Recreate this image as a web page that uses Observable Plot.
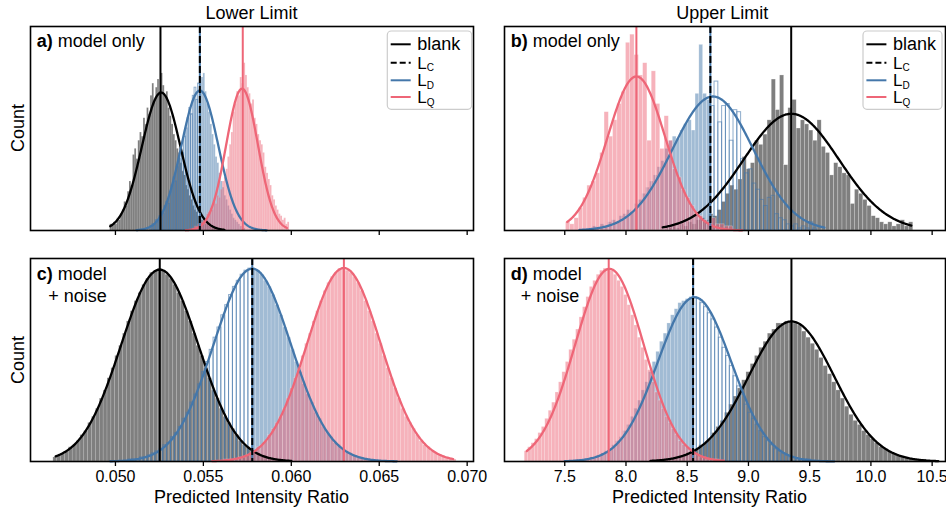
<!DOCTYPE html>
<html>
<head>
<meta charset="utf-8">
<script src="https://cdn.jsdelivr.net/npm/d3@7"></script>
<script src="https://cdn.jsdelivr.net/npm/@observablehq/plot@0.6"></script>
<style>
  body { margin: 0; background: #fff; }
  #fig { position: relative; width: 946px; height: 512px; overflow: hidden; background: #fff; }
  #fig svg { position: absolute; }
</style>
</head>
<body>
<div id="fig"></div>
<script>
const FONT = "'Liberation Sans', Arial, Helvetica, sans-serif";
const BLANK = "#000000";
const BLUE = "#4477AA";
const RED = "#EE6677";

// ---- axes ----
const lowerDomain = [0.04517, 0.07036];
const upperDomain = [7.008, 10.609];
const lowerTicks = [0.050, 0.055, 0.060, 0.065, 0.070];
const upperTicks = [7.5, 8.0, 8.5, 9.0, 9.5, 10.0, 10.5];

// ---- a) lower limit, model only ----
const aBinWidth = 0.0001;
const aBlankStart = 0.0497;
const aBlankCounts = [3,2,4,3,6,5,8,10,14,12,19,24,22,37,40,35,44,48,46,55,52,60,57,66,72,64,70,74,68,77,71,66,68,60,56,52,47,44,40,38,33,29,27,22,20,17,15,12,10,9,7,6,5,4,3,3,2,2,1,1];
const aLDStart = 0.0520;
const aLDCounts = [2,3,3,5,4,7,9,8,12,14,13,19,22,26,24,31,35,40,38,46,50,55,60,57,66,70,64,72,69,75,77,68,62,58,52,47,42,36,33,28,24,21,17,15,12,10,8,6,5,4,3,2,2,1];
const aLQStart = 0.0544;
const aLQCounts = [1,2,2,3,4,4,6,5,8,9,11,10,14,13,17,16,20,24,26,30,36,42,48,58,62,68,66,75,72,82,76,70,67,62,64,55,52,47,44,42,38,31,28,25,22,17,15,12,10,8,7,5,6,3,4];
// fitted curves: blank, L_D, L_Q
const aMeans = [0.0526, 0.0548, 0.0572];
const aSds = [0.0011, 0.00105, 0.0009];
const aPeaks = [67.6, 68.6, 69.5];
const aLo = [0.0497, 0.0512, 0.0540];
const aHi = [0.0562, 0.0586, 0.05975];
// limits: blank, L_C, L_D, L_Q
const aLimits = [0.05256, 0.05480, 0.05480, 0.05724];

// ---- b) upper limit, model only ----
const bBlankStart = 8.34, bBlankWidth = 0.034;
const bBlankCounts = [1,2,1,3,2,4,3,5,6,5,8,7,10,14,18,22,20,25,36,30,33,44,42,47,54,74,59,76,32,60,64,50,54,52,49,44,54,41,38,27,33,31,28,27,13,20,18,15,12,7,6,4,3,4,2,3,5,2,4];
const bLDStart = 7.70, bLDWidth = 0.031;
const bLDCounts = [1,2,1,3,2,4,5,4,7,8,10,9,13,15,18,21,24,27,31,34,40,44,46,45,49,52,54,49,67,91,67,64,61,73,53,61,62,44,59,58,35,28,30,23,20,15,12,16,17,8,6,5,3,2,3,1,2,1,4,1];
const bLQStart = 7.51, bLQWidth = 0.035;
const bLQCounts = [4,3,6,11,16,22,24,28,38,58,46,54,62,68,92,96,86,76,82,44,78,62,40,56,44,30,26,20,16,12,9,7,5,4,6,3,3,2,2];
const bMeans = [9.35, 8.71, 8.085];
const bSds = [0.39, 0.33, 0.235];
const bPeaks = [57.2, 65.7, 75.5];
const bLo = [8.30, 7.62, 7.52];
const bHi = [10.33, 9.62, 8.95];
const bLimits = [9.349, 8.689, 8.689, 8.085];

// ---- c) lower limit, model + noise ----
const cBlankStart = 0.04647, cBlankWidth = 0.00022;
const cBlankCounts = [2,3,4,5,7,8,10,13,15,19,22,26,31,35,41,46,52,57,63,69,74,79,83,87,90,93,94,95,94,92,90,87,83,79,74,69,63,57,52,46,41,35,31,26,22,19,16,13,10,8,7,5,4,3,3,2,1,1,1,1,0];
const cLDStart = 0.05052, cLDWidth = 0.00022;
const cLDCounts = [0,1,1,1,2,2,3,4,5,6,8,9,12,14,17,21,24,29,33,38,44,49,55,61,66,72,77,82,86,89,92,94,95,
                   95,94,92,89,86,82,77,72,66,61,55,49,44,38,33,29,24,21,17,14,12,9,8,6,5,4,3,2,2,1,1,1,0];
const cLQStart = 0.055955, cLQWidth = 0.00021;
const cLQCounts = [0,1,1,1,1,2,2,3,4,5,7,8,10,13,16,19,22,26,31,36,41,46,52,58,63,69,74,79,84,88,91,93,95,95,94,93,91,88,84,79,74,69,63,58,52,46,41,36,31,26,22,19,16,13,10,8,7,5,4,3,2,2,1,1];
const cMeans = [0.05252, 0.05778, 0.06299];
const cSds = [0.0022, 0.0022, 0.0021];
const cPeaks = [94.5, 95.0, 95.3];
const cLo = [0.0466, 0.0497, 0.0555];
const cHi = [0.0600, 0.0660, 0.0692];
const cLimits = [0.05252, 0.05778, 0.05778, 0.06299];

// ---- d) upper limit, model + noise ----
const dBlankStart = 8.1435, dBlankWidth = 0.035;
const dBlankCounts = [0,0,0,1,1,1,1,2,2,3,4,5,6,8,9,11,14,17,20,24,28,32,36,40,44,48,52,56,59,63,65,68,68,69,69,68,67,64,61,58,55,51,47,43,39,35,31,27,23,20,18,15,13,11,9,7,6,5,4,3,2,2,1,1,1,1,0,0,0];
const dLDStart = 7.588, dLDWidth = 0.03;
const dLDCounts = [1,1,1,1,2,2,3,4,5,6,8,10,12,15,18,22,26,30,35,39,44,49,54,59,63,68,72,75,78,79,80,81,
                   81,80,78,76,73,70,66,61,56,52,47,42,37,33,28,24,21,18,15,12,10,8,6,5,4,3,2,2,1,1,1,1,0,0];
const dLQStart = 7.173, dLQWidth = 0.028;
const dLQCounts = [5,7,9,11,14,17,21,25,29,34,39,44,49,55,60,65,71,76,81,86,89,92,94,95,95,94,92,89,86,82,77,72,67,61,56,50,45,39,34,30,26,22,19,16,13,10,8,7,5,4,3,2,2,1,1,1,1,0];
const dMeans = [9.351, 8.56, 7.865];
const dSds = [0.35, 0.30, 0.28];
const dPeaks = [69.0, 80.9, 94.9];
const dLo = [8.20, 7.50, 7.19];
const dHi = [10.55, 9.70, 8.80];
const dLimits = [9.351, 8.548, 8.548, 7.859];

// ---- helpers ----
function toBins(start, width, counts) {
  return counts.map((c, i) => ({x1: start + i * width, x2: start + (i + 1) * width, y: c}));
}
function fitted(mu, sd, peak, lo, hi) {
  const n = 300;
  return d3.range(n + 1).map(i => {
    const x = lo + (hi - lo) * i / n;
    return {x, y: peak * Math.exp(-0.5 * ((x - mu) / sd) ** 2)};
  });
}

function panel(o) {
  const [blank, ld, lq] = o.hists;
  const lc = o.limits[1];
  const beta = d => {
    const m = (d.x1 + d.x2) / 2;
    return o.betaSide === "left" ? m < lc : m > lc;
  };
  const barOpts = (fill) => ({
    x1: "x1", x2: "x2", y1: () => 0, y2: "y",
    fill, fillOpacity: 0.5, stroke: "white", strokeOpacity: o.edgeOpacity, strokeWidth: 0.5
  });
  const curveColors = [BLANK, BLUE, RED];
  const curves = curveColors.map((c, i) =>
    Plot.line(fitted(o.means[i], o.sds[i], o.peaks[i], o.lo[i], o.hi[i]),
      {x: "x", y: "y", stroke: c, strokeWidth: 2.3}));
  return Plot.plot({
    width: o.width, height: o.height,
    marginTop: o.mt, marginBottom: o.mb, marginLeft: o.ml, marginRight: o.mr,
    x: {domain: o.domain},
    y: {domain: [0, 100], axis: null},
    style: {background: "transparent", fontFamily: FONT, fontSize: "16px", color: "black", overflow: "visible"},
    marks: [
      Plot.rect(blank, barOpts(BLANK)),
      Plot.rect(ld.filter(d => !beta(d)), barOpts(BLUE)),
      Plot.rect(ld.filter(beta), {x1: "x1", x2: "x2", y1: () => 0, y2: "y",
        fill: "none", stroke: BLUE, strokeOpacity: 0.6, strokeWidth: 1}),
      Plot.rect(lq, barOpts(RED)),
      ...curves,
      Plot.ruleX([o.limits[0]], {stroke: BLANK, strokeWidth: 2}),
      Plot.ruleX([o.limits[2]], {stroke: BLUE, strokeWidth: 2}),
      Plot.ruleX([o.limits[3]], {stroke: RED, strokeWidth: 2}),
      Plot.ruleX([o.limits[1]], {stroke: BLANK, strokeWidth: 2, strokeDasharray: "7,3"}),
      Plot.frame({stroke: "black", strokeWidth: 1.6}),
      Plot.axisX({ticks: o.ticks, tickFormat: o.fmt, tickSize: 5, tickPadding: 4,
        strokeWidth: 1.3, label: null})
    ]
  });
}

const fig = document.getElementById("fig");
const noLabel = () => "";
const specs = [
  {left: 0, top: 0, width: 476, height: 258, mt: 26, mb: 28, ml: 30, mr: 3, edgeOpacity: 0.12,
   domain: lowerDomain, ticks: lowerTicks, fmt: noLabel, betaSide: "left",
   hists: [toBins(aBlankStart, aBinWidth, aBlankCounts), toBins(aLDStart, aBinWidth, aLDCounts), toBins(aLQStart, aBinWidth, aLQCounts)],
   means: aMeans, sds: aSds, peaks: aPeaks, lo: aLo, hi: aHi, limits: aLimits},
  {left: 476, top: 0, width: 470, height: 258, mt: 26, mb: 28, ml: 28, mr: 1, edgeOpacity: 0.5,
   domain: upperDomain, ticks: upperTicks, fmt: noLabel, betaSide: "right",
   hists: [toBins(bBlankStart, bBlankWidth, bBlankCounts), toBins(bLDStart, bLDWidth, bLDCounts), toBins(bLQStart, bLQWidth, bLQCounts)],
   means: bMeans, sds: bSds, peaks: bPeaks, lo: bLo, hi: bHi, limits: bLimits},
  {left: 0, top: 240, width: 476, height: 272, mt: 18, mb: 51, ml: 30, mr: 3, edgeOpacity: 0.35,
   domain: lowerDomain, ticks: lowerTicks, fmt: d3.format(".3f"), betaSide: "left",
   hists: [toBins(cBlankStart, cBlankWidth, cBlankCounts), toBins(cLDStart, cLDWidth, cLDCounts), toBins(cLQStart, cLQWidth, cLQCounts)],
   means: cMeans, sds: cSds, peaks: cPeaks, lo: cLo, hi: cHi, limits: cLimits},
  {left: 476, top: 240, width: 470, height: 272, mt: 18, mb: 51, ml: 28, mr: 1, edgeOpacity: 0.4,
   domain: upperDomain, ticks: upperTicks, fmt: d3.format(".1f"), betaSide: "right",
   hists: [toBins(dBlankStart, dBlankWidth, dBlankCounts), toBins(dLDStart, dLDWidth, dLDCounts), toBins(dLQStart, dLQWidth, dLQCounts)],
   means: dMeans, sds: dSds, peaks: dPeaks, lo: dLo, hi: dHi, limits: dLimits}
];
for (const s of specs) {
  const svg = panel(s);
  svg.style.left = s.left + "px";
  svg.style.top = s.top + "px";
  fig.appendChild(svg);
}

// ---- titles, axis labels, panel tags and legends ----
const ov = d3.create("svg")
  .attr("width", 946).attr("height", 512)
  .style("left", "0px").style("top", "0px")
  .style("pointer-events", "none")
  .attr("font-family", FONT).attr("fill", "black");

function label(x, y, txt, opts = {}) {
  const t = ov.append("text").attr("x", x).attr("y", y)
    .attr("font-size", opts.size || 18)
    .attr("text-anchor", opts.anchor || "start");
  if (opts.rotate) t.attr("transform", `rotate(-90 ${x} ${y})`);
  t.text(txt);
  return t;
}
label(251.5, 19, "Lower Limit", {anchor: "middle"});
label(722.3, 19, "Upper Limit", {anchor: "middle"});
label(24, 128, "Count", {anchor: "middle", rotate: true});
label(24, 360, "Count", {anchor: "middle", rotate: true});
label(251.5, 503, "Predicted Intensity Ratio", {anchor: "middle"});
label(709.5, 503, "Predicted Intensity Ratio", {anchor: "middle"});

function tag(x, y, letter, rest) {
  const t = ov.append("text").attr("x", x).attr("y", y).attr("font-size", 18);
  t.append("tspan").attr("font-weight", "bold").text(letter + ")");
  t.append("tspan").text(" " + rest);
}
tag(36.7, 46.7, "a", "model only");
tag(510.7, 46.7, "b", "model only");
tag(36.7, 280, "c", "model");
label(48.3, 301.7, "+ noise");
tag(510.7, 280, "d", "model");
label(520.7, 301.7, "+ noise");

const legendItems = [
  {main: "blank", sub: "", color: BLANK, dash: null},
  {main: "L", sub: "C", color: BLANK, dash: "6,3"},
  {main: "L", sub: "D", color: BLUE, dash: null},
  {main: "L", sub: "Q", color: RED, dash: null}
];
const legendRows = [13.3, 31.7, 49.3, 66];
function legend(x0, y0, w) {
  const g = ov.append("g");
  g.append("rect").attr("x", x0).attr("y", y0).attr("width", w).attr("height", 78.3)
    .attr("rx", 4).attr("fill", "white").attr("fill-opacity", 0.8)
    .attr("stroke", "#cccccc").attr("stroke-width", 1.2);
  legendItems.forEach((it, i) => {
    const y = y0 + legendRows[i];
    g.append("line").attr("x1", x0 + 3.4).attr("x2", x0 + 23.4).attr("y1", y).attr("y2", y)
      .attr("stroke", it.color).attr("stroke-width", 2)
      .attr("stroke-dasharray", it.dash);
    const t = g.append("text").attr("x", x0 + 30).attr("y", y + 6).attr("font-size", it.sub ? 17 : 18);
    t.append("tspan").text(it.main);
    if (it.sub) t.append("tspan").attr("font-size", 10).attr("dy", 2.5).text(it.sub);
  });
}
legend(387.3, 31, 84.4);
legend(863, 31, 79);

fig.appendChild(ov.node());
</script>
</body>
</html>
